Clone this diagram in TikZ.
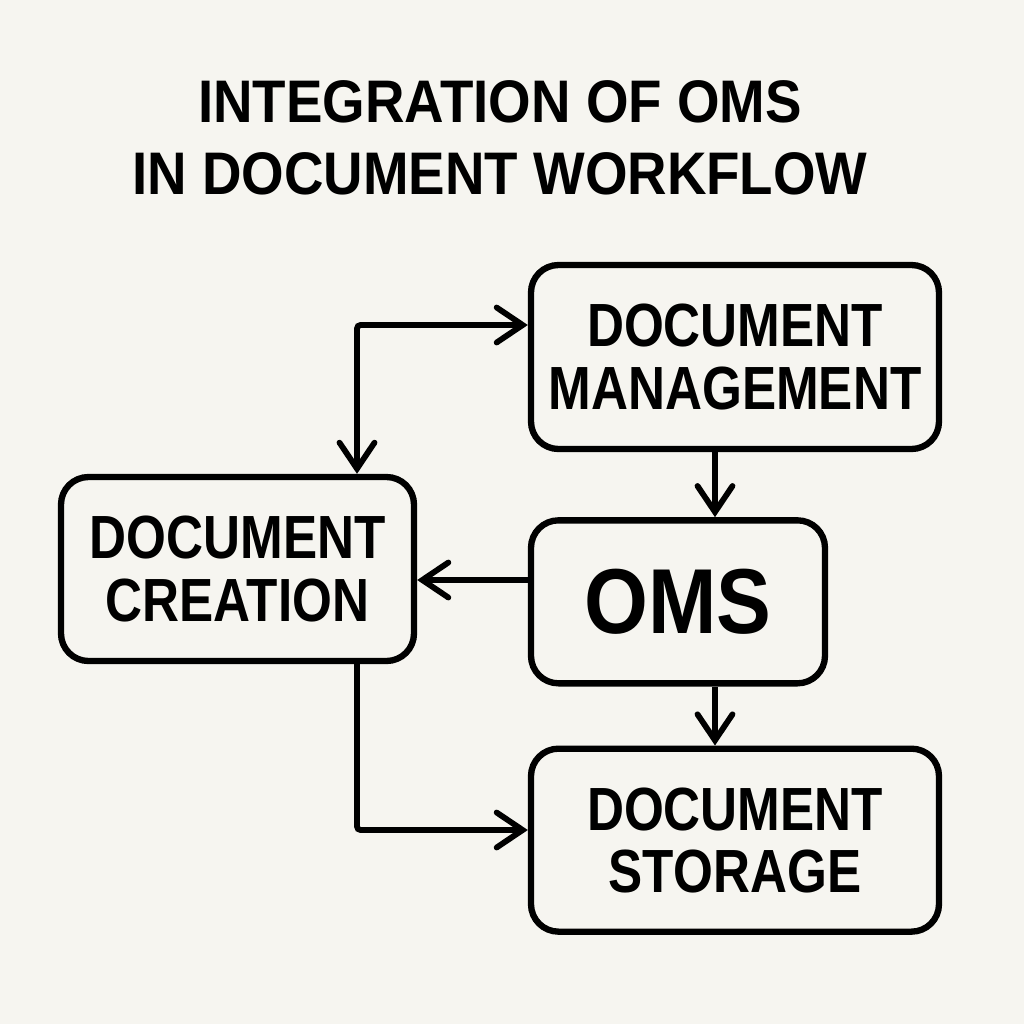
\documentclass[tikz,border=0pt]{standalone}
\usepackage{fontspec}
\newfontfamily\boxfont[FakeStretch=0.84]{Liberation Sans}
\newfontfamily\titlefont[FakeStretch=0.91]{Liberation Sans}
\newfontfamily\omsfont[FakeStretch=0.89]{Liberation Sans}
\usepackage{xcolor}
\definecolor{paper}{HTML}{F6F5F0}
\usepackage{tikz}
\usetikzlibrary{arrows.meta,positioning}

\begin{document}
\begin{tikzpicture}[
    box/.style={draw,rectangle,rounded corners=0.55cm,line width=3.6pt,align=center,inner sep=0pt,
      font=\boxfont\bfseries\fontsize{34.7pt}{35.3pt}\selectfont},
    >={Straight Barb[length=0.52cm,width=0.7cm,line cap=round]},
    flow/.style={->,line width=3.3pt,rounded corners=2pt}
]
\fill[paper] (0,0) rectangle (20.48,-20.48);
\node[anchor=north,align=center,inner sep=0pt,font=\titlefont\bfseries\fontsize{34.2pt}{41pt}\selectfont]
  (title) at (10.0,-1.60) {INTEGRATION OF OMS\\IN DOCUMENT WORKFLOW};
\node[box,minimum width=8.16cm,minimum height=3.68cm] (mgmt) at (14.70,-7.14) {DOCUMENT\\MANAGEMENT};
\node[box,below=1.30cm of mgmt.south west,anchor=north west,minimum width=5.88cm,minimum height=3.26cm,
      font=\omsfont\bfseries\fontsize{52.5pt}{53pt}\selectfont] (oms) {OMS};
\node[box,below=1.18cm of oms.south west,anchor=north west,minimum width=8.16cm,minimum height=3.66cm] (storage) {DOCUMENT\\STORAGE};
\node[box,minimum width=7.06cm,minimum height=3.68cm] (creation) at (4.75,-11.38) {DOCUMENT\\CREATION};
% connector corners
\coordinate (loopTop) at (7.14,-6.50);
\coordinate (loopBot) at (7.14,-16.60);
\coordinate (midX) at (14.30,0);
\coordinate (backY) at (0,-11.60);
\draw[flow,<->] (creation.north -| loopTop) |- (mgmt.west |- loopTop);
\draw[flow] (mgmt.south -| midX) -- (oms.north -| midX);
\draw[flow] (oms.south -| midX) -- (storage.north -| midX);
\draw[flow] (oms.west |- backY) -- (creation.east |- backY);
\draw[flow] (creation.south -| loopBot) |- (storage.west |- loopBot);
\end{tikzpicture}
\end{document}
